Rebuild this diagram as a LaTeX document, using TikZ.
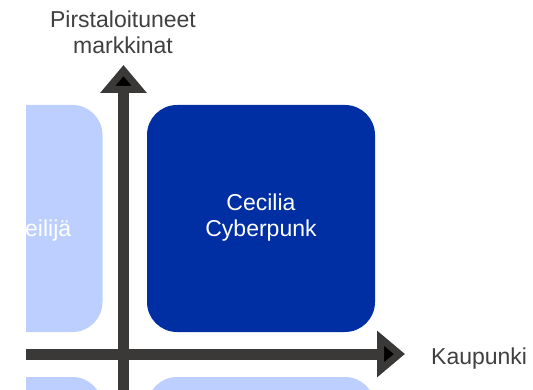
\documentclass[tikz,border=0pt]{standalone}
\usepackage{fontspec}
\setmainfont{Liberation Sans}
\usetikzlibrary{arrows.meta}
\definecolor{deepblue}{HTML}{002EA3}
\definecolor{paleblue}{HTML}{BCCFFF}
\definecolor{axisgrey}{HTML}{3B3838}
\definecolor{textgrey}{HTML}{404040}
\tikzset{
	quad/.style={rectangle,rounded corners=30pt,minimum width=228pt,minimum height=227pt,inner sep=0pt},
	axis/.style={draw=axisgrey,line width=11pt,-{Triangle[width=45pt,length=28pt]}},
	lbl/.style={font=\fontsize{23}{26}\selectfont,inner sep=0pt}
}

\begin{document}
\begin{tikzpicture}[x=1pt,y=-1pt]
			\useasboundingbox (0,0) rectangle (533,390);
			\begin{scope}
			\clip (26,0) rectangle (533,390);
			\draw (-11.5,218.5) node [quad,fill=paleblue] (topleft) {};
			\draw (25,237) node [anchor=base west,lbl,text=white] (topleftlbl) {eilijä};
			\draw (261,218.5) node [quad,fill=deepblue,lbl,text=white] (cecilia) {\begin{tabular}{c} Cecilia \\ Cyberpunk \end{tabular}};
			\draw (-11.5,490.5) node [quad,fill=paleblue] (botleft) {};
			\draw (261,490.5) node [quad,fill=paleblue] (botright) {};
			\coordinate (ybot) at (123.5,400);
			\coordinate (ytop) at (123.5,65);
			\coordinate (xleft) at (0,354);
			\coordinate (xright) at (405,354);
			\path[axis]
				(ybot) edge (ytop)
				(xleft) edge (xright);
			\end{scope}
			\draw (123,61.8) node [above,lbl,text=textgrey] (ylabel) {\begin{tabular}{c} Pirstaloituneet \\ markkinat \end{tabular}};
			\draw (431,364) node [anchor=base west,lbl,text=textgrey] (xlabel) {Kaupunki};
		\end{tikzpicture}
\end{document}
